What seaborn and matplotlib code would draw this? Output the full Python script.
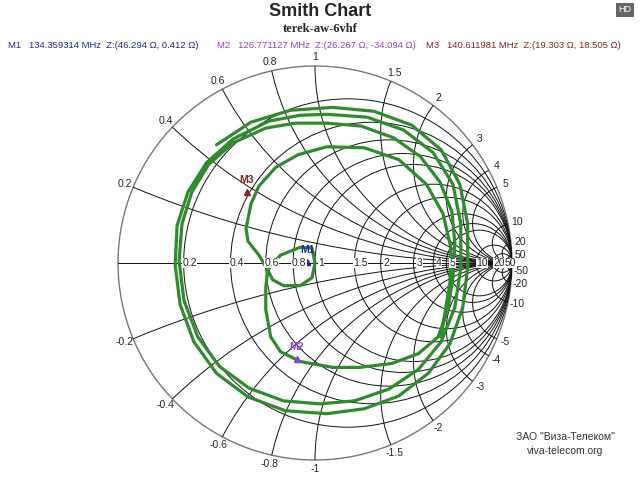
import numpy as np
import pandas as pd
import matplotlib
matplotlib.use("Agg")
import matplotlib.pyplot as plt
from matplotlib.patches import Circle
import seaborn as sns

gamma_re = [-0.50,-0.325,-0.125,0.09,0.30,0.49,0.64,0.735,0.775,0.775,0.75,0.685,0.575,0.425,0.25,0.06,-0.15,-0.34,-0.50,-0.615,-0.685,-0.71,-0.70,-0.645,-0.55,-0.415,-0.235,-0.075,
            0.06,0.265,0.45,0.60,0.70,0.74,0.74,0.71,0.64,0.525,0.375,0.20,0.025,-0.16,-0.335,-0.485,-0.595,-0.665,-0.69,-0.675,-0.625,-0.54,-0.415,-0.25,-0.10,
            0.06,0.235,0.40,0.535,0.635,0.695,0.71,0.70,0.675,0.625,0.525,0.39,0.225,0.09,-0.075,-0.175,-0.225,-0.25,-0.25,-0.24,
            -0.175,-0.075,-0.015,0.0,-0.015,-0.075,-0.16,-0.215,-0.24,-0.285,-0.34,
            -0.35,-0.325,-0.285,-0.20,-0.085,0.06,0.25,0.425,0.565,0.65,0.69,0.685,0.66,0.64]
gamma_im = [0.60,0.715,0.775,0.79,0.77,0.70,0.575,0.40,0.20,-0.025,-0.225,-0.41,-0.56,-0.675,-0.74,-0.765,-0.75,-0.68,-0.56,-0.40,-0.21,-0.01,0.19,0.36,0.51,0.63,0.72,0.75,
            0.755,0.74,0.675,0.56,0.40,0.20,-0.025,-0.225,-0.40,-0.54,-0.64,-0.70,-0.715,-0.70,-0.635,-0.525,-0.375,-0.19,0.01,0.20,0.36,0.50,0.61,0.685,0.71,
            0.71,0.695,0.635,0.54,0.41,0.26,0.10,-0.075,-0.235,-0.375,-0.46,-0.51,-0.53,-0.53,-0.50,-0.45,-0.375,-0.235,-0.125,-0.035,
            0.04,0.08,0.075,0.0,-0.075,-0.115,-0.115,-0.085,-0.035,0.04,0.11,
            0.175,0.30,0.39,0.485,0.55,0.59,0.585,0.525,0.40,0.25,0.075,-0.10,-0.25,-0.375]

marker_names = ["M1", "M2", "M3"]
marker_freq = ["134.359314 MHz", "126.771127 MHz", "140.611981 MHz"]
marker_r = [46.294, 26.267, 19.303]
marker_x = [0.412, -34.094, 18.505]
marker_colors = ["#2222aa", "#9040d0", "#8b2525"]

r_values = [0.2, 0.4, 0.6, 0.8, 1, 1.5, 2, 3, 4, 5, 10, 20, 50]
r_labels = ["0.2", "0.4", "0.6", "0.8", "1", "1.5", "2", "3", "4", "5", "10", "20", "50"]
x_values = [0.2, 0.4, 0.6, 0.8, 1, 1.5, 2, 3, 4, 5, 10, 20, 50]
x_labels = ["0.2", "0.4", "0.6", "0.8", "1", "1.5", "2", "3", "4", "5", "10", "20", "50"]

sns.set_theme(style="white")
plt.rcParams['font.family'] = ['Liberation Sans', 'DejaVu Sans']

R = 197.0
fig = plt.figure(figsize=(6.4, 4.8), dpi=100)
ax = fig.add_axes([0, 0, 1, 1])

unit = Circle((0, 0), 1, transform=ax.transData, facecolor="none", edgecolor="#777777", lw=1.0)
ax.add_patch(unit)
clip = Circle((0, 0), 1, transform=ax.transData)

for r in r_values:
    c = Circle((r / (1 + r), 0), 1 / (1 + r), fill=False, edgecolor="#111111", lw=0.7)
    ax.add_patch(c)
    c.set_clip_path(clip)
for x in x_values:
    for s in (1, -1):
        c = Circle((1, s / x), 1 / x, fill=False, edgecolor="#111111", lw=0.7)
        ax.add_patch(c)
        c.set_clip_path(clip)
ax.plot([-1, 1], [0, 0], color="#111111", lw=0.7)

for r, lab in zip(r_values, r_labels):
    g = (r - 1) / (r + 1)
    ax.text(g + 0.03, 0, lab, fontsize=7.5, ha="center", va="center",
            bbox=dict(facecolor="white", edgecolor="none", pad=0.3))
for x, lab in zip(x_values, x_labels):
    for s in (1, -1):
        g = (1j * s * x - 1) / (1j * s * x + 1)
        ang = np.angle(g)
        ax.text(1.045 * np.cos(ang), 1.045 * np.sin(ang), ("-" if s < 0 else "") + lab,
                fontsize=7.5, ha="center", va="center")

df = pd.DataFrame({"re": gamma_re, "im": gamma_im})
sns.lineplot(data=df, x="re", y="im", sort=False, estimator=None, color="#2e8b2e", lw=2.3, ax=ax)

for name, rr, xx, col in zip(marker_names, marker_r, marker_x, marker_colors):
    z = complex(rr, xx) / 50
    g = (z - 1) / (z + 1)
    ax.plot(g.real, g.imag, marker="^", color=col, ms=4)
    ax.text(g.real, g.imag + 0.035, name, color=col, fontsize=7.5, fontweight="bold", ha="center", va="bottom")

ax.set_xlim(-315 / R, 325 / R)
ax.set_ylim(-217 / R, 263 / R)
ax.axis("off")

fig.text(0.5, 1 - 11/480, "Smith Chart", fontsize=13, fontweight="bold", ha="center", va="center")
fig.text(0.5, 1 - 29/480, "terek-aw-6vhf", fontsize=9, fontweight="bold", ha="center", va="center",
         family=["Liberation Serif", "DejaVu Serif"])
hdr_x = [8, 217, 426]
for px, name, fq, rr, xx, col in zip(hdr_x, marker_names, marker_freq, marker_r, marker_x, marker_colors):
    fig.text(px/640, 1 - 46/480, f"{name}   {fq}  Z:({rr:.3f} \u03a9, {xx:.3f} \u03a9)",
             color=col, fontsize=6.8, ha="left", va="center")
fig.text(625/640, 1 - 10/480, "HD", fontsize=6.5, color="white", ha="center", va="center",
         bbox=dict(facecolor="#666666", edgecolor="none", pad=1.5))
fig.text(565/640, 1 - 437/480, "ЗАО \"Виза-Телеком\"", fontsize=7.5, color="#333333", ha="center", va="center")
fig.text(565/640, 1 - 451/480, "viva-telecom.org", fontsize=7.5, color="#333333", ha="center", va="center")

fig.savefig("out.png", dpi=100)
